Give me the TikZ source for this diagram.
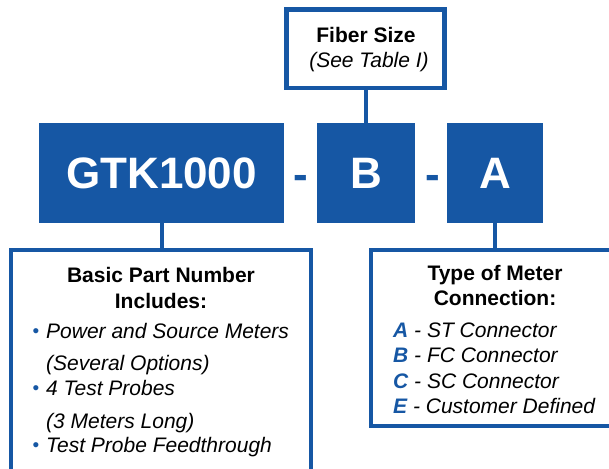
\documentclass[tikz,border=0pt]{standalone}
\usepackage{fontspec}
\setmainfont{Liberation Sans}
\definecolor{gblue}{RGB}{22,87,164}
\begin{document}
\begin{tikzpicture}[x=1pt,y=-1pt,
  frame/.style={draw=gblue, line width=4.5pt, inner sep=0pt},
  codebox/.style={fill=gblue, text=white, inner sep=0pt, minimum height=100pt,
    font=\fontsize{44}{48}\selectfont\bfseries},
  dashtxt/.style={text=gblue, inner sep=0pt, anchor=base, font=\fontsize{44}{48}\selectfont\bfseries},
  conn/.style={draw=gblue, line width=4pt},
  head/.style={inner sep=0pt, anchor=base, font=\fontsize{21}{25}\selectfont\bfseries},
  itm/.style={inner sep=0pt, anchor=base west, font=\fontsize{21}{25}\selectfont\itshape},
  bul/.style={inner sep=0pt, anchor=base, text=gblue, font=\fontsize{19}{22}\selectfont},
  key/.style={text=gblue, font=\bfseries\itshape}
]
\useasboundingbox (0,0) rectangle (609,468);
\clip (0,0) rectangle (609,468);
% top frame
\node[frame, minimum width=158pt, minimum height=78.5pt] (fiber) at (365.5,48.75) {};
\node[head] (fibt) at (366,43) {Fiber Size};
\node[head, font=\fontsize{21}{25}\selectfont\itshape] (fibs) at (369,68) {(See Table I)};
% code boxes
\node[codebox, minimum width=245pt] (gtk) at (161.5,173) {GTK1000};
\node[codebox, minimum width=98pt] (b) at (366,173) {B};
\node[codebox, minimum width=96pt] (a) at (495,173) {A};
\node[dashtxt] (d1) at (301,189) {-};
\node[dashtxt] (d2) at (432.5,189) {-};
% lower frames
\node[frame, minimum width=300pt, minimum height=240pt] (left) at (161,370) {};
\node[frame, minimum width=269pt, minimum height=176pt] (right) at (505.5,338) {};
% connectors
\draw[conn] (fiber.south -| b.north) -- (b.north);
\draw[conn] (gtk.south) -- (gtk.south |- left.north);
\draw[conn] (a.south) -- (a.south |- right.north);
% left text
\node[head] (l1) at (161,282) {Basic Part Number};
\node[head] (l2) at (161,308) {Includes:};
\node[bul] (b1) at (36,337) {•};
\node[itm] (t1) at (46,338) {Power and Source Meters};
\node[itm] (t2) at (46,370) {(Several Options)};
\node[bul] (b2) at (36,394) {•};
\node[itm] (t3) at (46,395) {4 Test Probes};
\node[itm] (t4) at (46,428) {(3 Meters Long)};
\node[bul] (b3) at (36,451) {•};
\node[itm] (t5) at (46,452) {Test Probe Feedthrough};
% right text
\node[head] (r1) at (495,280) {Type of Meter};
\node[head] (r2) at (495,305) {Connection:};
\node[itm] (k1) at (393,337) {\textcolor{gblue}{\bfseries A} - ST Connector};
\node[itm] (k2) at (393,362) {\textcolor{gblue}{\bfseries B} - FC Connector};
\node[itm] (k3) at (393,388) {\textcolor{gblue}{\bfseries C} - SC Connector};
\node[itm] (k4) at (393,413) {\textcolor{gblue}{\bfseries E} - Customer Defined};
\end{tikzpicture}
\end{document}
